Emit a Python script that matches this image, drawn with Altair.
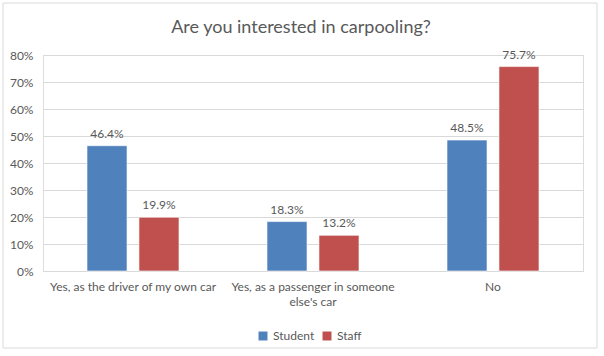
import altair as alt
import pandas as pd

categories = ["Yes, as the driver of my own car", "Yes, as a passenger in someone else's car", "No"]
series = ["Student", "Staff"]
student = [46.4, 18.3, 48.5]
staff = [19.9, 13.2, 75.7]
colors = ["#4F81BD", "#C0504D"]
y_ticks = [0, 10, 20, 30, 40, 50, 60, 70, 80]
title_text = "Are you interested in carpooling?"

rows = []
for c, s, t in zip(categories, student, staff):
    rows.append({"category": c, "series": "Student", "value": s / 100})
    rows.append({"category": c, "series": "Staff", "value": t / 100})
df = pd.DataFrame(rows)

font = "Lato"
gray = "#595959"

x = alt.X("category:N", sort=categories, title=None,
          scale=alt.Scale(paddingInner=0.489, paddingOuter=0.2445),
          axis=alt.Axis(labelAngle=0, labelFont=font, labelFontSize=12, labelColor=gray,
                        labelPadding=10, ticks=False, domain=True, domainColor="#d9d9d9",
                        labelLimit=300, labelLineHeight=15,
                        labelExpr="indexof(datum.label, 'passenger') >= 0 ? ['Yes, as a passenger in someone', \"else's car\"] : datum.label"))
xo = alt.XOffset("series:N", sort=series, scale=alt.Scale(paddingInner=0.23, paddingOuter=0))
y = alt.Y("value:Q", title=None,
          scale=alt.Scale(domain=[0, 0.8], nice=False),
          axis=alt.Axis(values=[v / 100 for v in y_ticks], format=".0%", labelFont=font,
                        labelFontSize=12, labelColor=gray, labelPadding=10, ticks=False,
                        domain=False, gridColor="#d9d9d9", grid=True))
color = alt.Color("series:N", sort=series, scale=alt.Scale(domain=series, range=colors),
                  legend=alt.Legend(title=None, orient="none", legendX=214, legendY=275,
                                    direction="horizontal", symbolType="square", symbolSize=80,
                                    labelFont=font, labelFontSize=12, labelColor=gray,
                                    columnPadding=6, labelOffset=4, symbolStrokeWidth=0))

base = alt.Chart(df)
bars = base.mark_bar(stroke="white", strokeWidth=0.6).encode(x=x, xOffset=xo, y=y, color=color)
labels = base.mark_text(dy=-12, font=font, fontSize=12, color=gray).encode(
    x=x, xOffset=xo, y=y, text=alt.Text("value:Q", format=".1%"))

one = alt.Data(values=[{"t": title_text}])
border = alt.Chart(one).mark_rect(fill=None, stroke="#d9d9d9", strokeWidth=1).encode(
    x=alt.value(-40), x2=alt.value(554), y=alt.value(-52), y2=alt.value(293))
title = alt.Chart(one).mark_text(font=font, fontSize=18, color=gray, align="center",
                                 baseline="middle").encode(
    x=alt.value(258), y=alt.value(-27), text="t:N")

chart = alt.layer(border, title, bars, labels).properties(
    width=540, height=216,
    autosize=alt.AutoSizeParams(type="none"),
    padding={"left": 43, "top": 55, "right": 21, "bottom": 85},
).configure_view(stroke=None).configure(background="white")

chart.save("out.html", embed_options={"renderer": "svg", "actions": False})
